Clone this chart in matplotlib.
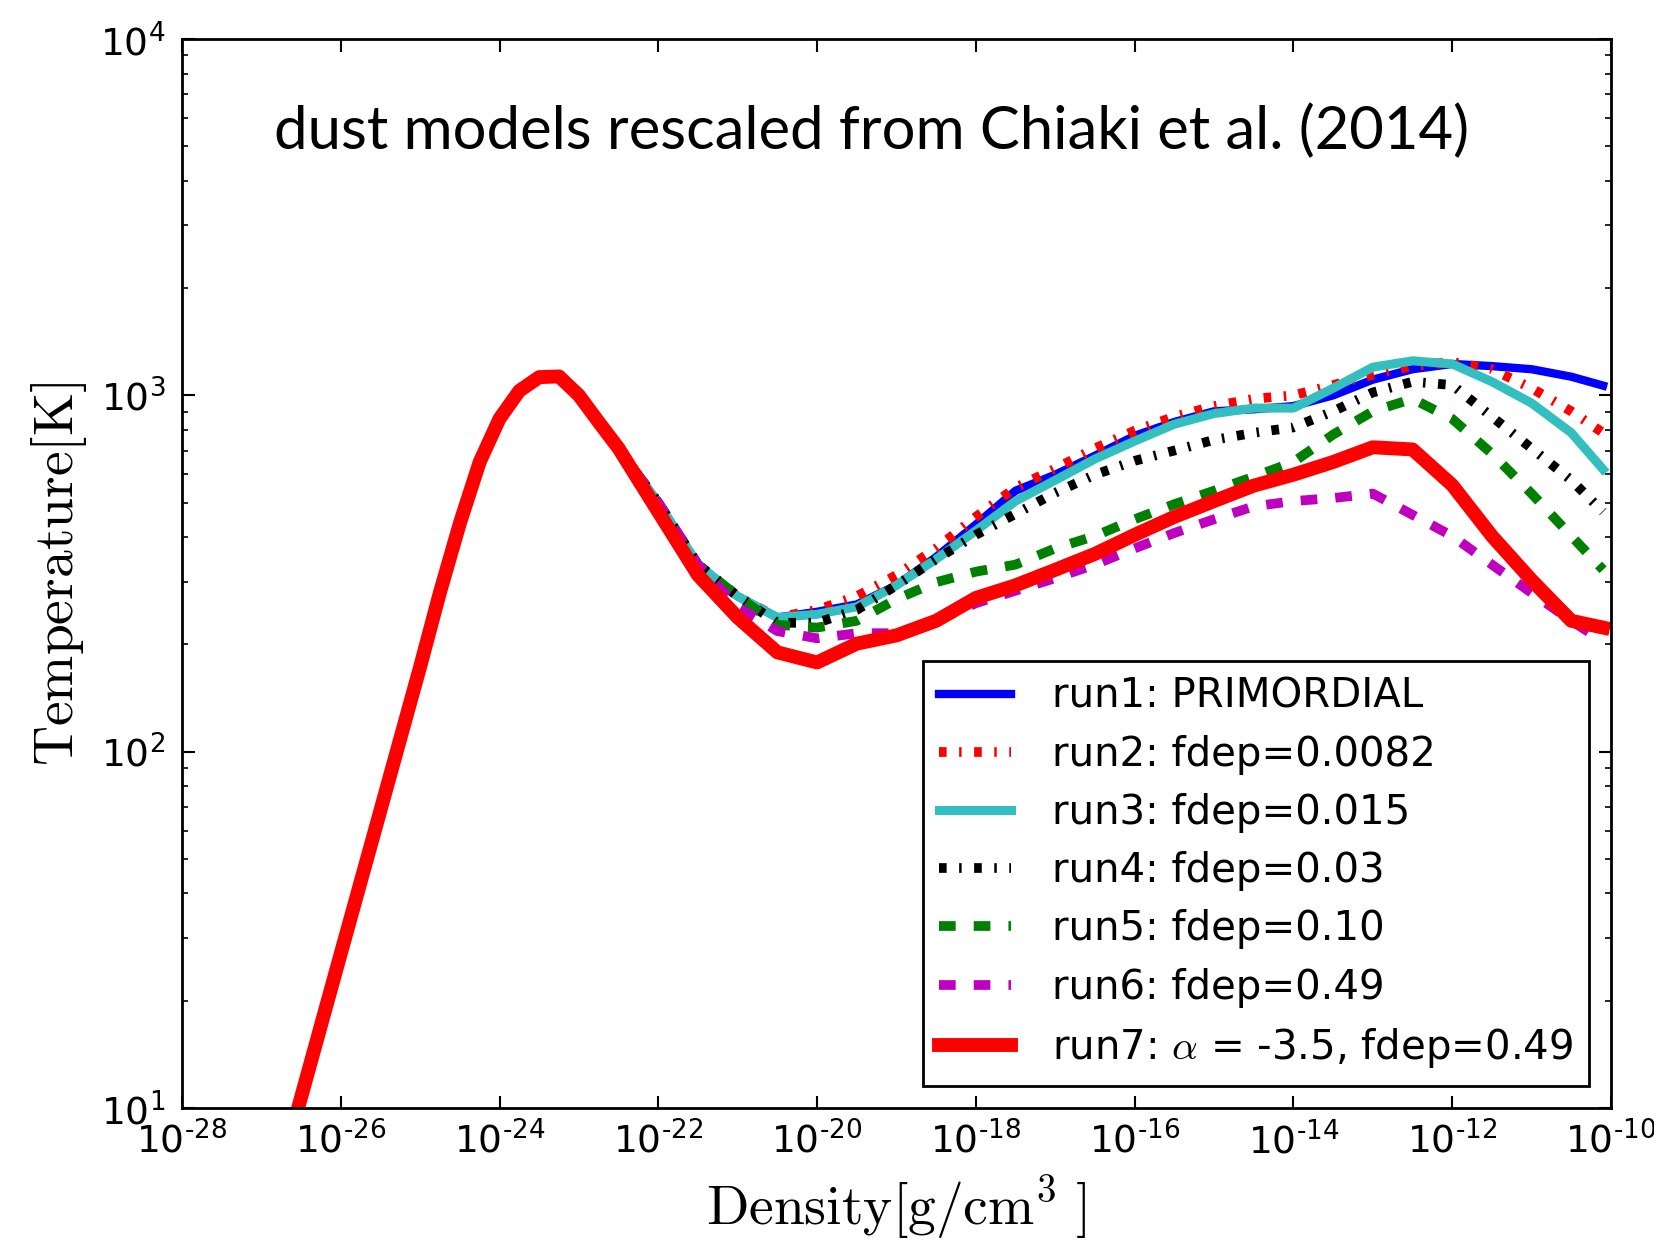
import numpy as np
import matplotlib.pyplot as plt
from matplotlib.ticker import FixedLocator, LogLocator, FuncFormatter, NullLocator

plt.rcParams['mathtext.fontset'] = 'cm'
plt.rcParams['lines.scale_dashes'] = False

# early part of the track, shared by all runs (log10 density, K)
logrho_early = [-26.6, -26.5, -26.0, -25.5, -25.0, -24.75, -24.5, -24.25, -24.0,
                -23.75, -23.5, -23.25, -23.0, -22.75, -22.5]
temp_early = [8.9, 10.7, 27.1, 68.4, 173, 280, 437, 650, 860,
              1030, 1125, 1130, 1000, 841, 710]

# later part, where the runs split up
logrho_late = [-22.0, -21.5, -21.0, -20.5, -20.0, -19.5, -19.0, -18.5, -18.0,
               -17.5, -17.0, -16.5, -16.0, -15.5, -15.0, -14.5, -14.0, -13.5,
               -13.0, -12.5, -12.0, -11.5, -11.0, -10.5, -10.1]
temp_run1 = [500, 335, 273, 238, 247, 259, 293, 352, 434, 540, 599, 677, 770,
             842, 902, 914, 933, 1000, 1107, 1184, 1225, 1208, 1184, 1128, 1065]
temp_run2 = [500, 335, 273, 238, 250, 273, 313, 372, 456, 551, 623, 710, 796,
             871, 933, 978, 1000, 1069, 1143, 1208, 1241, 1184, 1047, 902, 785]
temp_run3 = [500, 335, 273, 238, 243, 255, 293, 347, 417, 505, 578, 663, 744,
             830, 889, 921, 921, 1047, 1200, 1250, 1225, 1092, 951, 785, 620]
temp_run4 = [500, 335, 273, 230, 230, 250, 293, 347, 406, 465, 533, 599, 655,
             700, 750, 785, 813, 902, 1019, 1092, 1069, 871, 710, 578, 471]
temp_run5 = [500, 335, 273, 227, 223, 233, 268, 299, 320, 335, 372, 403, 449,
             495, 540, 591, 650, 776, 902, 978, 859, 686, 530, 403, 324]
temp_run6 = [500, 335, 255, 218, 208, 215, 215, 233, 261, 283, 307, 335, 372,
             411, 449, 488, 505, 515, 530, 462, 403, 335, 279, 233, 204]
temp_run7 = [471, 313, 238, 190, 178, 201, 212, 233, 270, 293, 324, 359, 406,
             456, 505, 558, 599, 650, 715, 705, 560, 403, 303, 233, 223]

labels = ['run1: PRIMORDIAL', 'run2: fdep=0.0082', 'run3: fdep=0.015',
          'run4: fdep=0.03', 'run5: fdep=0.10', 'run6: fdep=0.49',
          r'run7: $\alpha$ = -3.5, fdep=0.49']

runs = [temp_run1, temp_run2, temp_run3, temp_run4, temp_run5, temp_run6, temp_run7]
colors = ['#0000ff', '#ff0000', '#33bfbf', '#000000', '#008000', '#bf00bf', '#ff0000']
dashdot = (0, (5.5, 9, 1.8, 9))
dashed = (0, (12, 13))
styles = ['-', dashdot, '-', dashdot, dashed, dashed, '-']
widths = [6, 7, 6.5, 7, 7, 7, 10]

fig = plt.figure(figsize=(16.54, 12.43), dpi=100)
ax = fig.add_axes([0.110, 0.1086, 0.864, 0.860])

for temps, c, ls, lw, lab in zip(runs, colors, styles, widths, labels):
    rho = 10.0 ** np.array(logrho_early + logrho_late)
    ax.plot(rho, temp_early + temps, color=c, linestyle=ls, linewidth=lw, label=lab)

ax.set_xscale('log')
ax.set_yscale('log')
ax.set_xlim(1e-28, 1e-10)
ax.set_ylim(1e1, 1e4)


def pow_label(v, pos):
    e = int(round(np.log10(v)))
    s = ('\u2010%d' % -e) if e < 0 else '%d' % e
    return r'$\mathdefault{10^{%s}}$' % s


fmt = FuncFormatter(pow_label)
ax.xaxis.set_major_locator(FixedLocator(10.0 ** np.arange(-28, -9, 2)))
ax.xaxis.set_minor_locator(NullLocator())
ax.xaxis.set_major_formatter(fmt)
ax.yaxis.set_major_locator(LogLocator(base=10.0))
ax.yaxis.set_minor_locator(LogLocator(base=10.0, subs=np.arange(2, 10)))
ax.yaxis.set_major_formatter(fmt)
ax.tick_params(which='both', direction='in', top=True, right=True, labelsize=27)
ax.tick_params(which='major', length=9, width=1.5)
ax.tick_params(which='minor', length=4.5, width=1.2)
ax.tick_params(axis='x', pad=10)
ax.tick_params(axis='y', pad=12)
for sp in ax.spines.values():
    sp.set_linewidth(2)

ax.set_xlabel(r'$\mathrm{Density[g/cm^3\ ]}$', fontsize=40, labelpad=9)
ax.set_ylabel(r'$\mathrm{Temperature[K]}$', fontsize=40, labelpad=8)

leg = ax.legend(loc='lower right', fontsize=29, fancybox=False, edgecolor='black',
                framealpha=1, borderaxespad=0.55, handlelength=1.8,
                handletextpad=1.0, labelspacing=0.45, borderpad=0.4)
leg.get_frame().set_linewidth(2)

fig.text(0.527, 0.894, 'dust models rescaled from Chiaki et al. (2014)',
         ha='center', va='center', fontsize=43, family='Lato')

fig.savefig('out.png', dpi=100)
